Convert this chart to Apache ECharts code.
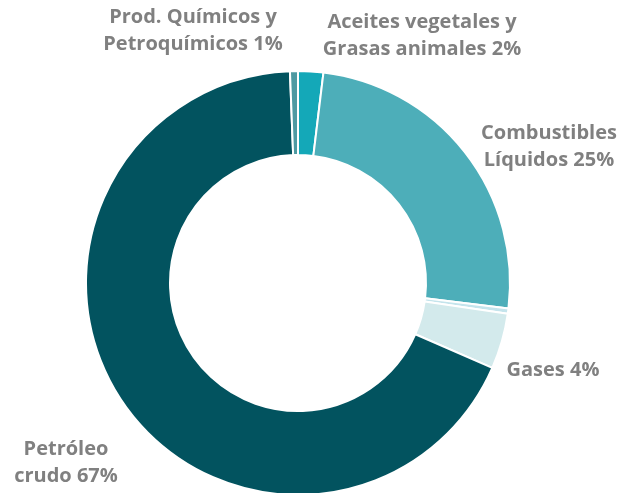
<!DOCTYPE html>
<html>
<head>
<meta charset="utf-8">
<script src="https://cdn.jsdelivr.net/npm/echarts@6/dist/echarts.min.js"></script>
<style>
  html, body { margin: 0; padding: 0; background: #fff; }
  #chart { width: 618px; height: 493px; }
</style>
</head>
<body>
<div id="chart"></div>
<script>
// slices clockwise from 12 o'clock
const names = ['Aceites vegetales y Grasas animales', 'Combustibles Líquidos', 'Otros', 'Gases', 'Petróleo crudo', 'Prod. Químicos y Petroquímicos'];
const values = [1.9, 24.8, 0.4, 4.2, 67.3, 0.6];
const labelTexts = ['Aceites vegetales y\nGrasas animales 2%', 'Combustibles\nLíquidos 25%', '', 'Gases 4%', 'Petróleo\ncrudo 67%', 'Prod. Químicos y\nPetroquímicos 1%'];
const colors = ['#14a8b8', '#4daeb9', '#c4e4ec', '#d3eaec', '#02535f', '#4e9aa2'];

// where each label sits (centre of text block)
const labelPos = [[422, 36], [549, 147], [0, 0], [553, 370], [66, 463], [193, 31]];

const chart = echarts.init(document.getElementById('chart'));

const pieData = names.map((n, i) => ({
    name: n,
    value: values[i],
    itemStyle: { color: colors[i] },
    label: { show: labelTexts[i] !== '' }
}));

chart.setOption({
    animation: false,
    series: [
        {
            type: 'pie',
            center: [298, 283],
            radius: [128, 212],
            startAngle: 90,
            clockwise: true,
            avoidLabelOverlap: false,
            itemStyle: {
                borderColor: '#fff',
                borderWidth: 2
            },
            label: {
                show: true,
                position: 'outside',
                formatter(p) {
                    return labelTexts[p.dataIndex];
                },
                color: '#808080',
                fontFamily: 'Open Sans',
                fontWeight: 'bold',
                fontSize: 20,
                lineHeight: 27,
                align: 'center'
            },
            labelLine: { show: false },
            labelLayout(p) {
                const pos = labelPos[p.dataIndex];
                return {
                    x: pos[0],
                    y: pos[1],
                    align: 'center',
                    verticalAlign: 'middle'
                };
            },
            data: pieData
        }
    ]
});
</script>
</body>
</html>
